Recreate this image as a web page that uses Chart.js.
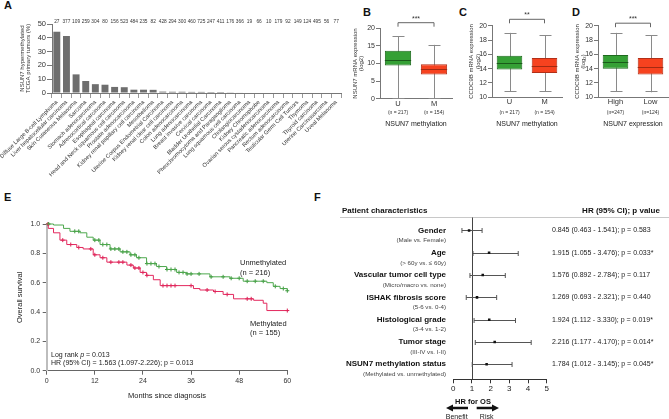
<!DOCTYPE html>
<html>
<head>
<meta charset="utf-8">
<title>NSUN7 methylation figure</title>
<script src="https://cdn.jsdelivr.net/npm/chart.js"></script>
<style>
  body { margin: 0; background: #fff; width: 669px; height: 419px; position: relative; overflow: hidden;
         font-family: 'Liberation Sans', Arial, sans-serif; }
  canvas { position: absolute; }
  .panel { position: absolute; font-weight: bold; font-size: 11px; line-height: 11px; color: #111; }
</style>
</head>
<body>
<div class="panel" style="left:4px;top:0px">A</div>
<div class="panel" style="left:363px;top:7px">B</div>
<div class="panel" style="left:459px;top:7px">C</div>
<div class="panel" style="left:572px;top:7px">D</div>
<div class="panel" style="left:4px;top:192px">E</div>
<div class="panel" style="left:314px;top:192px">F</div>

<canvas id="chartA" width="342" height="205" style="left:0;top:0"></canvas>
<canvas id="chartB" width="110" height="135" style="left:345px;top:0"></canvas>
<canvas id="chartC" width="110" height="135" style="left:455px;top:0"></canvas>
<canvas id="chartD" width="104" height="135" style="left:565px;top:0"></canvas>
<canvas id="chartE" width="320" height="214" style="left:0;top:205px"></canvas>
<canvas id="chartF" width="329" height="219" style="left:340px;top:200px"></canvas>

<script>
var FF = '"Liberation Sans", Arial, sans-serif';
Chart.defaults.font.family = FF;
Chart.defaults.color = '#222';

// ---- panel A: TCGA hypermethylation ----
var tumorTypes = ['Diffuse Large B-cell Lymphoma', 'Liver hepatocellular carcinoma', 'Skin Cutaneous Melanoma',
  'Sarcoma', 'Stomach adenocarcinoma', 'Adrenocortical carcinoma', 'Esophageal carcinoma',
  'Head and Neck squamous cell carcinoma', 'Prostate adenocarcinoma', 'Kidney renal papillary cell carcinoma',
  'Mesothelioma', 'Uterine Corpus Endometrial Carcinoma', 'Kidney renal clear cell carcinoma',
  'Colon adenocarcinoma', 'Lung adenocarcinoma', 'Breast invasive carcinoma', 'Cervical carcinoma',
  'Bladder Urothelial Carcinoma', 'Pheochromocytoma and Paraganglioma', 'Lung squamous cell carcinoma',
  'Cholangiocarcinoma', 'Kidney Chromophobe', 'Ovarian serous cystadenocarcinoma', 'Pancreatic adenocarcinoma',
  'Rectum adenocarcinoma', 'Testicular Germ Cell Tumors', 'Thymoma', 'Thyroid carcinoma',
  'Uterine Carcinosarcoma', 'Uveal Melanoma'];
var tumorN = [27, 377, 109, 259, 304, 80, 156, 523, 484, 235, 82, 428, 294, 300, 460, 725, 247, 411, 176, 366,
  19, 66, 10, 179, 92, 149, 124, 495, 56, 77];
var hyperPct = [44.4, 41.3, 13.5, 8.7, 6.4, 6.0, 4.4, 4.2, 2.4, 2.4, 2.3, 1.0, 0.9, 0.9, 0.8, 0.8, 0.7, 0.7, 0.5, 0.4,
  0, 0, 0, 0, 0, 0, 0, 0, 0, 0];

// ---- panels B-D: box plots ----
var methGroups = ['U', 'M'];
var methN = ['(n = 217)', '(n = 154)'];
var nsunMin = [0, 0], nsunQ1 = [9.4, 6.9], nsunMed = [10.9, 8.3], nsunQ3 = [13.6, 9.8], nsunMax = [17.7, 15.3];
var ccdcMin = [10.8, 10.8], ccdcQ1 = [13.9, 13.4], ccdcMed = [14.8, 14.4], ccdcQ3 = [15.8, 15.5], ccdcMax = [19.0, 18.7];
var exprGroups = ['High', 'Low'];
var exprN = ['(n=247)', '(n=124)'];
var exprMin = [10.8, 10.7], exprQ1 = [14.0, 13.2], exprMed = [14.9, 14.3], exprQ3 = [15.9, 15.5], exprMax = [19.0, 18.7];

// ---- panel E: Kaplan-Meier ----
var unmethT = [0, 1.7, 4.2, 5.8, 8.3, 10, 11.6, 13.3, 15.8, 18.3, 20.8, 22.4, 24.9, 27.4, 29.9, 32.4, 34.9, 40.7,
  45.7, 49, 54.9, 56.5, 58.2, 60];
var unmethS = [1.0, 0.993, 0.97, 0.95, 0.94, 0.91, 0.89, 0.86, 0.83, 0.81, 0.79, 0.77, 0.73, 0.71, 0.69, 0.67, 0.66,
  0.64, 0.63, 0.61, 0.60, 0.575, 0.56, 0.545];
var methT = [0, 0.4, 1.7, 3.3, 5, 7.5, 9.1, 11.6, 13.3, 15, 20, 21.6, 23.3, 24.9, 26.6, 28.3, 36.6, 38.2, 41.6, 44,
  46.6, 51.6, 54, 54.9, 60];
var methS = [1.0, 0.97, 0.94, 0.89, 0.86, 0.84, 0.83, 0.79, 0.77, 0.74, 0.72, 0.70, 0.67, 0.65, 0.62, 0.58, 0.56,
  0.55, 0.54, 0.52, 0.49, 0.48, 0.46, 0.41, 0.41];
var unmethCensor = [0.5, 7, 8, 12, 13, 14, 15, 16, 17, 18, 19, 20, 21, 22, 23, 25, 26, 27, 28, 30, 31, 32, 33, 34, 35,
  36, 38, 41, 44, 46, 48, 50, 52, 54, 57, 59, 60];
var methCensor = [0.3, 4, 6, 8, 11, 12, 14, 16, 18, 19, 21, 22, 23, 24, 25, 29, 30, 31, 32, 36, 40, 42, 45, 50, 51, 60];

// ---- panel F: Cox regression ----
var factors = ['Gender', 'Age', 'Vascular tumor cell type', 'ISHAK fibrosis score', 'Histological grade',
  'Tumor stage', 'NSUN7 methylation status'];
var comparisons = ['(Male vs. Female)', '(> 60y vs. \u2264 60y)', '(Micro/macro vs. none)', '(5-6 vs. 0-4)',
  '(3-4 vs. 1-2)', '(III-IV vs. I-II)', '(Methylated vs. unmethylated)'];
var hrVal = [0.845, 1.915, 1.576, 1.269, 1.924, 2.216, 1.784];
var hrLow = [0.463, 1.055, 0.892, 0.693, 1.112, 1.177, 1.012];
var hrHigh = [1.541, 3.476, 2.784, 2.321, 3.330, 4.170, 3.145];
var pVal = ['0.583', '0.033*', '0.117', '0.440', '0.019*', '0.014*', '0.045*'];

var base = { responsive: false, animation: false, devicePixelRatio: 1 };
var noLegend = { legend: { display: false }, tooltip: { enabled: false } };

// top counts above each bar
var countLabels = {
  id: 'countLabels',
  afterDraw: function (chart) {
    var ctx = chart.ctx, xs = chart.scales.x;
    ctx.save();
    ctx.font = '4.8px ' + FF;
    ctx.fillStyle = '#333';
    ctx.textAlign = 'center';
    ctx.textBaseline = 'middle';
    tumorN.forEach(function (n, i) { ctx.fillText(String(n), xs.getPixelForValue(i), chart.chartArea.top - 2.5); });
    ctx.restore();
  }
};

new Chart(document.getElementById('chartA'), {
  type: 'bar',
  data: { labels: tumorTypes, datasets: [{ data: hyperPct, backgroundColor: '#6e6e6e', barPercentage: 0.72, categoryPercentage: 1 }] },
  options: Object.assign({}, base, {
    layout: { padding: { top: 24, right: 1, left: 0, bottom: 0 } },
    plugins: noLegend,
    scales: {
      x: {
        grid: { drawOnChartArea: false, tickLength: 5, color: '#999' },
        border: { color: '#777' },
        ticks: { autoSkip: false, maxRotation: 45, minRotation: 45, font: { size: 5.7 }, padding: 1, color: '#333' },
        afterFit: function (s) { s.height = 112; s.paddingLeft = 0; s.paddingRight = 0; }
      },
      y: {
        min: 0, max: 50,
        ticks: { stepSize: 10, font: { size: 7.5 }, padding: 1, color: '#333' },
        grid: { drawOnChartArea: false, tickLength: 5, color: '#777' },
        border: { color: '#777' },
        title: { display: true, text: ['NSUN7 hypermethylated', 'TCGA primary tumors (%)'], font: { size: 6, lineHeight: 1.05 },
                 padding: { top: 18.8, bottom: 0 }, color: '#333' },
        afterFit: function (s) { s.width = 52; s.paddingTop = 0; s.paddingBottom = 0; }
      }
    }
  }),
  plugins: [countLabels]
});

function boxChart(cfg) {
  var decor = {
    id: 'boxDecor',
    beforeDatasetsDraw: function (chart) {
      var ctx = chart.ctx, xs = chart.scales.x, ys = chart.scales.y;
      ctx.save();
      ctx.strokeStyle = '#8a8a8a';
      ctx.lineWidth = 1;
      cfg.groups.forEach(function (g, i) {
        var x = Math.round(xs.getPixelForValue(i)) + 0.5;
        var yMax = ys.getPixelForValue(cfg.max[i]), yMin = ys.getPixelForValue(cfg.min[i]);
        ctx.beginPath();
        ctx.moveTo(x, yMax); ctx.lineTo(x, yMin);
        ctx.moveTo(x - 6, Math.round(yMax) + 0.5); ctx.lineTo(x + 6, Math.round(yMax) + 0.5);
        ctx.moveTo(x - 6, Math.round(yMin) - 0.5); ctx.lineTo(x + 6, Math.round(yMin) - 0.5);
        ctx.stroke();
      });
      ctx.restore();
    },
    afterDatasetsDraw: function (chart) {
      var ctx = chart.ctx, xs = chart.scales.x, ys = chart.scales.y, a = chart.chartArea;
      var meta = chart.getDatasetMeta(0);
      ctx.save();
      cfg.groups.forEach(function (g, i) {
        var bar = meta.data[i];
        var y = Math.round(ys.getPixelForValue(cfg.med[i])) + 0.5;
        ctx.strokeStyle = cfg.medColors[i];
        ctx.lineWidth = 1;
        ctx.beginPath(); ctx.moveTo(bar.x - bar.width / 2, y); ctx.lineTo(bar.x + bar.width / 2, y); ctx.stroke();
      });
      // significance bracket
      var x0 = xs.getPixelForValue(0), x1 = xs.getPixelForValue(1), by = a.top + cfg.bracketDy;
      ctx.strokeStyle = '#666';
      ctx.beginPath();
      ctx.moveTo(x0, by + 4); ctx.lineTo(x0, by); ctx.lineTo(x1, by); ctx.lineTo(x1, by + 4);
      ctx.stroke();
      ctx.fillStyle = '#333';
      ctx.font = '7px ' + FF;
      ctx.textAlign = 'center';
      ctx.textBaseline = 'middle';
      ctx.fillText(cfg.stars, (x0 + x1) / 2, by - 4);
      // group sizes
      ctx.font = '5px ' + FF;
      cfg.nText.forEach(function (t, i) { ctx.fillText(t, xs.getPixelForValue(i), 112.5); });
      ctx.restore();
    }
  };
  return new Chart(document.getElementById(cfg.id), {
    type: 'bar',
    data: {
      labels: cfg.groups,
      datasets: [{
        data: cfg.q1.map(function (v, i) { return [v, cfg.q3[i]]; }),
        backgroundColor: ['#35a035', '#f6421f'], borderColor: ['#1e6a1e', '#b32f17'],
        borderWidth: 1, borderSkipped: false, barPercentage: 0.73, categoryPercentage: 1
      }]
    },
    options: Object.assign({}, base, {
      layout: { padding: { top: cfg.top, right: cfg.padRight, left: 0, bottom: 0 } },
      plugins: noLegend,
      scales: {
        x: {
          grid: { drawOnChartArea: false, drawTicks: false },
          border: { color: '#777' },
          ticks: { font: { size: 7.5, lineHeight: 1 }, padding: 1, color: '#333' },
          title: { display: true, text: cfg.xTitle, font: { size: 7 }, padding: { top: 0, bottom: 6.8 }, color: '#222' },
          afterFit: function (s) { s.height = 135 - cfg.bottom; s.paddingLeft = 0; s.paddingRight = 0; }
        },
        y: {
          min: cfg.yMin, max: cfg.yMax,
          ticks: { stepSize: cfg.yStep, font: { size: 7 }, padding: 1, color: '#333' },
          grid: { drawOnChartArea: false, tickLength: 4, color: '#777' },
          border: { color: '#777' },
          title: { display: true, text: cfg.yTitle, font: { size: 6, lineHeight: 1.05 }, padding: { top: cfg.yTitlePad, bottom: 0 }, color: '#333' },
          afterFit: function (s) { s.width = cfg.yWidth; s.paddingTop = 0; s.paddingBottom = 0; }
        }
      }
    }),
    plugins: [decor]
  });
}

boxChart({ id: 'chartB', groups: methGroups, nText: methN, min: nsunMin, q1: nsunQ1, med: nsunMed, q3: nsunQ3, max: nsunMax,
  yMin: 0, yMax: 20, yStep: 5, yTitle: ['NSUN7 mRNA expression', '(log2)'], yTitlePad: 6.8, xTitle: 'NSUN7 methylation',
  stars: '***', bracketDy: -5.6, top: 28.3, bottom: 98.7, yWidth: 35, padRight: 3, medColors: ['#1a5a1a', '#a32a12'] });
boxChart({ id: 'chartC', groups: methGroups, nText: methN, min: ccdcMin, q1: ccdcQ1, med: ccdcMed, q3: ccdcQ3, max: ccdcMax,
  yMin: 10, yMax: 20, yStep: 2, yTitle: ['CCDC9B mRNA expression', '(log2)'], yTitlePad: 13.5, xTitle: 'NSUN7 methylation',
  stars: '**', bracketDy: -6.4, top: 25.7, bottom: 97.3, yWidth: 37, padRight: 3, medColors: ['#1a5a1a', '#a32a12'] });
boxChart({ id: 'chartD', groups: exprGroups, nText: exprN, min: exprMin, q1: exprQ1, med: exprMed, q3: exprQ3, max: exprMax,
  yMin: 10, yMax: 20, yStep: 2, yTitle: ['CCDC9B mRNA expression', '(log\u2082)'], yTitlePad: 8.8, xTitle: 'NSUN7 expression',
  stars: '***', bracketDy: -2.5, top: 25.7, bottom: 97.3, yWidth: 33, padRight: 1, medColors: ['#1a5a1a', '#a32a12'] });

// ---- E ----
function survAt(T, S, t) {
  var s = S[0];
  for (var i = 0; i < T.length; i++) { if (T[i] <= t) s = S[i]; }
  return s;
}
var kmText = {
  id: 'kmText',
  afterDraw: function (chart) {
    var ctx = chart.ctx, a = chart.chartArea;
    ctx.save();
    ctx.fillStyle = '#222';
    ctx.textAlign = 'left';
    ctx.textBaseline = 'middle';
    ctx.font = '7.5px ' + FF;
    ctx.fillText('Unmethylated', 240, 58);
    ctx.fillText('(n = 216)', 240, 67.5);
    ctx.fillText('Methylated', 250, 119);
    ctx.fillText('(n = 155)', 250, 128);
    ctx.font = '7px ' + FF;
    var x = 51, y = 150;
    ctx.fillText('Log rank ', x, y);
    x += ctx.measureText('Log rank ').width;
    ctx.font = 'italic 7px ' + FF;
    ctx.fillText('p', x, y);
    x += ctx.measureText('p').width;
    ctx.font = '7px ' + FF;
    ctx.fillText(' = 0.013', x, y);
    ctx.fillText('HR (95% CI) = 1.563 (1.097-2.226); p = 0.013', 51, 158.5);
    ctx.restore();
  }
};
new Chart(document.getElementById('chartE'), {
  type: 'scatter',
  data: {
    datasets: [
      { type: 'line', data: unmethT.map(function (t, i) { return { x: t, y: unmethS[i] }; }), borderColor: '#4ea84e', borderWidth: 1, stepped: 'before', pointRadius: 0, fill: false },
      { type: 'line', data: methT.map(function (t, i) { return { x: t, y: methS[i] }; }), borderColor: '#e3285e', borderWidth: 1, stepped: 'before', pointRadius: 0, fill: false },
      { data: unmethCensor.map(function (t) { return { x: t, y: survAt(unmethT, unmethS, t) }; }), pointStyle: 'cross', pointRadius: 2, borderColor: '#3a963a', borderWidth: 1 },
      { data: methCensor.map(function (t) { return { x: t, y: survAt(methT, methS, t) }; }), pointStyle: 'cross', pointRadius: 2, borderColor: '#d91f52', borderWidth: 1 }
    ]
  },
  options: Object.assign({}, base, {
    clip: false,
    layout: { padding: { top: 19, right: 32.7, left: 0, bottom: 0 } },
    plugins: noLegend,
    scales: {
      x: {
        type: 'linear', min: 0, max: 60,
        ticks: { stepSize: 12, font: { size: 7 }, padding: 2, color: '#333' },
        grid: { drawOnChartArea: false, tickLength: 4, color: '#666' },
        border: { color: '#666' },
        title: { display: true, text: 'Months since diagnosis', font: { size: 7.5 }, padding: { top: 0, bottom: 18.5 }, color: '#222' },
        afterFit: function (s) { s.height = 48.3; s.paddingLeft = 0; s.paddingRight = 0; }
      },
      y: {
        min: 0, max: 1,
        ticks: { stepSize: 0.2, font: { size: 7 }, padding: 2.5, color: '#333', callback: function (v) { return v.toFixed(1); } },
        grid: { drawOnChartArea: false, tickLength: 4, color: '#666' },
        border: { color: '#bdbdbd', width: 2 },
        title: { display: true, text: 'Overall survival', font: { size: 7.5 }, padding: { top: 15.5, bottom: 0 }, color: '#222' },
        afterFit: function (s) { s.width = 46.7; s.paddingTop = 0; s.paddingBottom = 0; }
      }
    }
  }),
  plugins: [kmText]
});

// ---- F ----
function drawArrow(ctx, xFrom, xTo, y) {
  var dir = xTo > xFrom ? 1 : -1;
  ctx.lineWidth = 2.5;
  ctx.beginPath(); ctx.moveTo(xFrom, y); ctx.lineTo(xTo - dir * 5, y); ctx.stroke();
  ctx.beginPath(); ctx.moveTo(xTo, y); ctx.lineTo(xTo - dir * 7, y - 3.5); ctx.lineTo(xTo - dir * 7, y + 3.5); ctx.closePath(); ctx.fill();
}
var forestDecor = {
  id: 'forestDecor',
  beforeDatasetsDraw: function (chart) {
    var ctx = chart.ctx, xs = chart.scales.x, ys = chart.scales.y, a = chart.chartArea;
    var x1 = xs.getPixelForValue(1);
    ctx.save();
    ctx.textBaseline = 'middle';
    ctx.fillStyle = '#111';
    ctx.font = 'bold 8px ' + FF;
    ctx.textAlign = 'left';
    ctx.fillText('Patient characteristics', 2, 11);
    ctx.textAlign = 'center';
    ctx.fillText('HR (95% CI); p value', 281, 11);
    ctx.strokeStyle = '#c8c8c8';
    ctx.lineWidth = 1;
    ctx.beginPath(); ctx.moveTo(0, 17.5); ctx.lineTo(329, 17.5); ctx.stroke();
    ctx.strokeStyle = '#444';
    ctx.beginPath(); ctx.moveTo(Math.round(x1) + 0.5, 17.5); ctx.lineTo(Math.round(x1) + 0.5, a.bottom); ctx.stroke();
    factors.forEach(function (f, i) {
      var y = ys.getPixelForValue(i);
      ctx.fillStyle = '#111';
      ctx.textAlign = 'right';
      ctx.font = 'bold 8px ' + FF;
      ctx.fillText(f, 106, y);
      ctx.fillStyle = '#444';
      ctx.font = '6.2px ' + FF;
      ctx.fillText(comparisons[i], 106, y + 10);
      ctx.fillStyle = '#222';
      ctx.textAlign = 'left';
      ctx.font = '7px ' + FF;
      ctx.fillText(hrVal[i].toFixed(3) + ' (' + hrLow[i].toFixed(3) + ' - ' + hrHigh[i].toFixed(3) + '); p = ' + pVal[i], 212, y);
      var xl = xs.getPixelForValue(hrLow[i]), xh = xs.getPixelForValue(hrHigh[i]);
      var yy = Math.round(y) + 0.5;
      ctx.strokeStyle = '#555';
      ctx.lineWidth = 1;
      ctx.beginPath();
      ctx.moveTo(xl, yy); ctx.lineTo(xh, yy);
      ctx.moveTo(xl, yy - 2.5); ctx.lineTo(xl, yy + 2.5);
      ctx.moveTo(xh, yy - 2.5); ctx.lineTo(xh, yy + 2.5);
      ctx.stroke();
    });
    ctx.restore();
  },
  afterDraw: function (chart) {
    var ctx = chart.ctx, xs = chart.scales.x, a = chart.chartArea;
    var x1 = xs.getPixelForValue(1);
    ctx.save();
    ctx.fillStyle = '#111';
    ctx.strokeStyle = '#111';
    ctx.textAlign = 'center';
    ctx.textBaseline = 'middle';
    ctx.font = 'bold 7.5px ' + FF;
    ctx.fillText('HR for OS', x1 + 1, a.bottom + 22.4);
    drawArrow(ctx, x1 - 4, x1 - 26, a.bottom + 28.7);
    drawArrow(ctx, x1 + 4.7, x1 + 27, a.bottom + 28.7);
    ctx.font = '7px ' + FF;
    ctx.fillStyle = '#222';
    ctx.fillText('Benefit', x1 - 15.3, a.bottom + 38);
    ctx.fillText('Risk', x1 + 14.7, a.bottom + 38);
    ctx.restore();
  }
};
new Chart(document.getElementById('chartF'), {
  type: 'scatter',
  data: { datasets: [{ data: hrVal.map(function (v, i) { return { x: v, y: i }; }), pointStyle: 'rect', pointRadius: 1.8, backgroundColor: '#111', borderColor: '#111', borderWidth: 0 }] },
  options: Object.assign({}, base, {
    layout: { padding: { top: 17, right: 122.3, left: 113.3, bottom: 0 } },
    plugins: noLegend,
    scales: {
      x: {
        min: 0, max: 5,
        ticks: { stepSize: 1, font: { size: 8 }, padding: 1, color: '#222' },
        grid: { drawOnChartArea: false, tickLength: 4, color: '#333' },
        border: { color: '#333' },
        afterFit: function (s) { s.height = 39.7; s.paddingLeft = 0; s.paddingRight = 0; }
      },
      y: { display: false, min: -0.605, max: 6.673, reverse: true }
    }
  }),
  plugins: [forestDecor]
});
</script>
</body>
</html>
